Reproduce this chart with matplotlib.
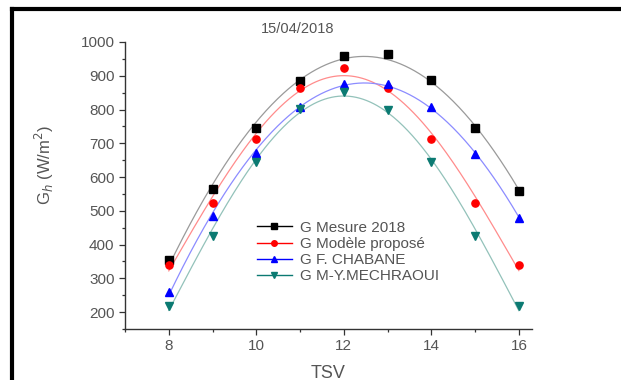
import numpy as np
import matplotlib
matplotlib.use("Agg")
import matplotlib.pyplot as plt
from matplotlib.lines import Line2D
from matplotlib.ticker import MultipleLocator

plt.rcParams["font.family"] = ["Liberation Sans", "DejaVu Sans"]

# Solar time (h) and global irradiance (W/m2), 15/04/2018
tsv = [8, 9, 10, 11, 12, 13, 14, 15, 16]
g_mesure = [354, 566, 745, 884, 958, 963, 886, 746, 558]
g_modele = [339, 522, 713, 864, 924, 864, 714, 523, 339]
g_chabane = [260, 485, 672, 807, 877, 875, 806, 669, 479]
g_mechraoui = [219, 426, 645, 801, 851, 799, 644, 426, 219]

labels = ["G Mesure 2018", "G Modèle proposé", "G F. CHABANE", "G M-Y.MECHRAOUI"]

series = [g_mesure, g_modele, g_chabane, g_mechraoui]
markers = ["s", "o", "^", "v"]
colors = ["#000000", "#ff0000", "#0000ff", "#0b7a72"]
fit_colors = ["#9a9a9a", "#ff8c8c", "#8c8cff", "#93c2ba"]
fit_freq = [0.15, 0.4, 0.15, 0.4]  # angular frequency of each sine fit (rad/h)

TXT = "#555555"


def sine_fit(x, y, xs, k):
    """Least-squares fit y = a + b*sin(kx) + c*cos(kx)."""
    x = np.asarray(x, float)
    A = np.column_stack([np.ones_like(x), np.sin(k * x), np.cos(k * x)])
    (a, b, c), *_ = np.linalg.lstsq(A, np.asarray(y, float), rcond=None)
    return a + b * np.sin(k * xs) + c * np.cos(k * xs)


fig = plt.figure(figsize=(6.21, 3.8), dpi=100)
ax = fig.add_axes([0.2013, 0.1342, 0.6554, 0.7553])

xs = np.linspace(tsv[0], tsv[-1], 300)
handles = []
for y, m, c, fc, k, lab in zip(series, markers, colors, fit_colors, fit_freq, labels):
    ax.plot(xs, sine_fit(tsv, y, xs, k), color=fc, lw=0.9, zorder=2)
    ax.plot(tsv, y, ls="none", marker=m, color=c, ms=5.2, zorder=3)
    handles.append(Line2D([], [], color=c, marker=m, ms=4, lw=1.0, label=lab))

ax.set_xlim(7, 16.3)
ax.set_ylim(150, 1000)
ax.xaxis.set_major_locator(MultipleLocator(2))
ax.xaxis.set_minor_locator(MultipleLocator(1))
ax.yaxis.set_major_locator(MultipleLocator(100))
ax.yaxis.set_minor_locator(MultipleLocator(50))
ax.set_yticks(range(200, 1001, 100))

for side in ("top", "right"):
    ax.spines[side].set_visible(False)
for side in ("left", "bottom"):
    ax.spines[side].set_color("#333333")
    ax.spines[side].set_linewidth(1.0)

ax.tick_params(which="major", direction="out", length=4, width=0.9,
               color="#333333", labelcolor=TXT, labelsize=11)
ax.tick_params(which="minor", direction="out", length=2.5, width=0.9, color="#333333")

ax.set_xlabel("TSV", fontsize=13, color=TXT, labelpad=8)
ax.set_ylabel(r"G$_{h}$ (W/m$^{2}$)", fontsize=12, color=TXT)
ax.yaxis.set_label_coords(-0.17, 0.571)

fig.text(0.48, 0.923, "15/04/2018", ha="center", va="center", fontsize=10.5, color=TXT)

ax.legend(handles=handles, loc="upper left", bbox_to_anchor=(0.29, 0.425),
          frameon=False, fontsize=11, handlelength=2.3, handletextpad=0.55,
          labelspacing=0.14, labelcolor=TXT)

# black frame around the figure (left and top edges)
fig.add_artist(Line2D([0.0193, 0.0193], [0.0, 0.9755], color="black", lw=3,
                      transform=fig.transFigure, solid_capstyle="projecting"))
fig.add_artist(Line2D([0.0193, 1.0], [0.9755, 0.9755], color="black", lw=3,
                      transform=fig.transFigure, solid_capstyle="projecting"))

fig.savefig("out.png", dpi=100)
